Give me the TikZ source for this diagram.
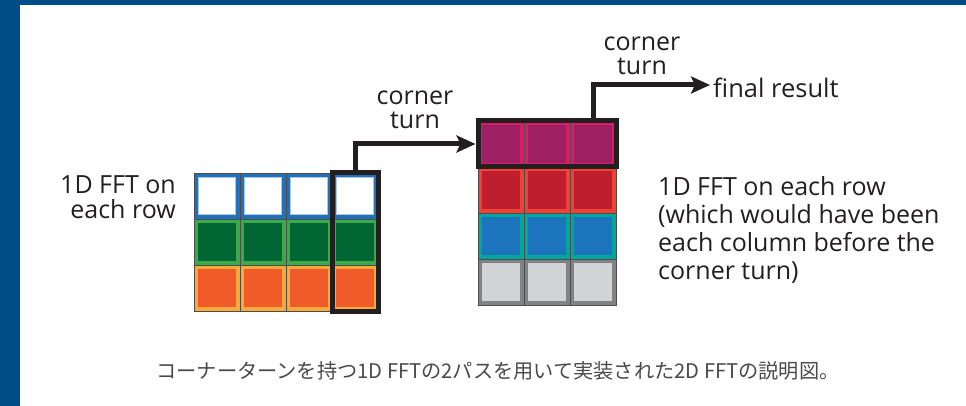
\documentclass[tikz,border=0pt]{standalone}
\usepackage{fontspec}
\setmainfont{Open Sans}
\newfontfamily\cjkfont{Noto Sans CJK JP}
\usetikzlibrary{arrows.meta}
\definecolor{band}{RGB}{0,76,135}
\definecolor{ink}{HTML}{231F20}
\definecolor{capgray}{HTML}{4A4A4A}
\definecolor{wB}{HTML}{2170B8}\definecolor{wL}{HTML}{A9C9EA}
\definecolor{gB}{HTML}{3BAA4A}\definecolor{gF}{HTML}{006633}
\definecolor{oB}{HTML}{F9AA3C}\definecolor{oF}{HTML}{F15A29}
\definecolor{mB}{HTML}{DA1C66}\definecolor{mF}{HTML}{9E1F63}
\definecolor{rB}{HTML}{EF4136}\definecolor{rF}{HTML}{BE1E2D}
\definecolor{bB}{HTML}{00A79D}\definecolor{bF}{HTML}{1C75BC}
\definecolor{yB}{HTML}{808285}\definecolor{yF}{HTML}{D1D3D4}
\tikzset{
  cell/.style={rectangle, minimum size=42pt, inner sep=0pt, line width=4pt},
  gridline/.style={draw=ink!80, line width=0.8pt},
  frame/.style={draw=ink, line width=5pt},
  arrowline/.style={draw=ink, line width=5pt, -{Stealth[length=19pt,width=17pt,inset=4pt]}},
  label/.style={font=\fontsize{25}{24.5}\selectfont, text=ink, inner sep=0pt},
}
\begin{document}
\begin{tikzpicture}[x=1pt,y=-1pt]
\useasboundingbox (0,0) rectangle (966,406);
\fill[white] (0,0) rectangle (966,406);
% page chrome
\fill[band] (0,0) rectangle (966,5);
\fill[band] (0,0) rectangle (20,406);
% left grid 3 rows x 4 columns
\foreach \c in {0,...,3}{
  \node[cell, fill=white, draw=wB] (L0\c) at ({217+46*\c},196) {};
  \node[cell, fill=gF, draw=gB] (L1\c) at ({217+46*\c},242) {};
  \node[cell, fill=oF, draw=oB] (L2\c) at ({217+46*\c},288) {};
  \draw[wL, line width=1pt] ([xshift=4.5pt,yshift=-4.5pt]L0\c.north west) rectangle ([xshift=-4.5pt,yshift=4.5pt]L0\c.south east);
  \foreach \r in {0,1,2}{\draw[gridline] (L\r\c.north west) rectangle (L\r\c.south east);}
}
% right grid 4 rows x 3 columns
\foreach \c in {0,1,2}{
  \node[cell, fill=mF, draw=mB] (R0\c) at ({501+46*\c},144) {};
  \node[cell, fill=rF, draw=rB] (R1\c) at ({501+46*\c},190) {};
  \node[cell, fill=bF, draw=bB] (R2\c) at ({501+46*\c},236) {};
  \node[cell, fill=yF, draw=yB] (R3\c) at ({501+46*\c},282) {};
  \foreach \r in {0,1,2,3}{\draw[gridline] (R\r\c.north west) rectangle (R\r\c.south east);}
}
% frames
\draw[frame] (L03.north west) rectangle (L23.south east);
\draw[frame] (R00.north west) rectangle (R02.south east);
% labels
\node[label, align=right, anchor=east, font=\fontsize{25}{24.5}\selectfont] (lefttext) at (176,197) {1D FFT on\\each row};
\node[label, align=center] (ct1) at (415,110) {corner\\turn};
\node[label, align=center] (ct2) at (642,56) {corner\\turn};
\node[label, anchor=west, font=\fontsize{25.5}{24.5}\selectfont] (final) at (713,88) {final result};
\node[label, align=left, anchor=north west, font=\fontsize{25}{28}\selectfont] (righttext) at (658,176)
  {1D FFT on each row\\(which would have been\\each column before the\\corner turn)};
% connectors
\draw[arrowline, shorten >=2.5pt] ([yshift=-2pt]L03.north) |- (R00.west);
\draw[arrowline] ([yshift=-2pt]R02.north) |- ([xshift=-3pt,yshift=3pt]final.west);
% caption
\node[font=\cjkfont\fontsize{20.2}{22}\selectfont, text=capgray] (caption) at (498,371)
  {コーナーターンを持つ1D FFTの2パスを用いて実装された2D FFTの説明図。};
\end{tikzpicture}
\end{document}
